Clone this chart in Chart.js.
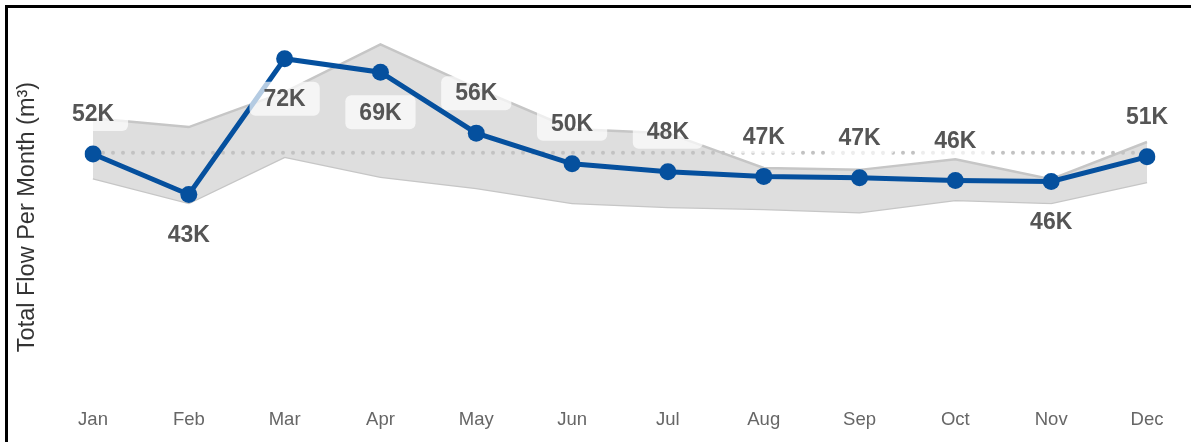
<!DOCTYPE html>
<html lang="en">
<head>
    <meta charset="UTF-8">
    <script src="https://cdn.jsdelivr.net/npm/chart.js"></script>
    <title>Total Flow Per Month</title>
    <style>
        html, body { margin: 0; padding: 0; background: #fff; overflow: hidden; }
        .frame {
            position: absolute;
            left: 5px;
            top: 5px;
            width: 1186px;
            height: 437px;
            border-top: 3px solid #000;
            border-left: 3px solid #000;
        }
        .chart-box { position: relative; width: 1183px; height: 434px; }
    </style>
</head>
<body>
    <div class="frame">
        <div class="chart-box">
            <canvas id="chart-flow"></canvas>
        </div>
    </div>

<script>
    // months on the x axis
    const months = ['Jan', 'Feb', 'Mar', 'Apr', 'May', 'Jun', 'Jul', 'Aug', 'Sep', 'Oct', 'Nov', 'Dec'];

    // total flow this year (m3)
    const totalFlow = [51600, 42900, 72100, 69200, 56100, 49500, 47800, 46800, 46500, 45900, 45700, 51000];

    // historical range (grey band)
    const rangeHigh = [59300, 57400, 64900, 75200, 65800, 57000, 56100, 48600, 48200, 50500, 46200, 54200];
    const rangeLow = [46400, 41100, 51000, 46700, 44300, 41100, 40200, 39800, 39100, 41700, 41100, 45600];

    // dotted average line
    const averageFlow = 51900;

    const yTitle = 'Total Flow Per Month (m³)';

    // where each value label goes
    const labelSide = ['top', 'bottom', 'bottom', 'bottom', 'top', 'top', 'top', 'top', 'top', 'top', 'bottom', 'top'];

    const blue = '#05509e';
    const fontFam = '"Liberation Sans", Arial, sans-serif';

    function formatK(v) {
        return Math.round(v / 1000) + 'K';
    }

    // value labels with a soft white box behind
    const valueLabels = {
        id: 'valueLabels',
        afterDatasetsDraw(chart) {
            const ctx = chart.ctx;
            const meta = chart.getDatasetMeta(0);
            ctx.save();
            ctx.font = 'bold 23px ' + fontFam;
            ctx.textAlign = 'center';
            ctx.textBaseline = 'middle';
            meta.data.forEach((pt, i) => {
                const txt = formatK(totalFlow[i]);
                const y = labelSide[i] === 'top' ? pt.y - 40 : pt.y + 40;
                const w = ctx.measureText(txt).width + 28;
                const h = 34;
                ctx.fillStyle = 'rgba(255,255,255,0.7)';
                ctx.beginPath();
                ctx.roundRect(pt.x - w / 2, y - h / 2, w, h, 6);
                ctx.fill();
                ctx.fillStyle = '#555555';
                ctx.fillText(txt, pt.x, y + 1);
            });
            ctx.restore();
        }
    };

    // y axis title, drawn by hand so it sits where the original has it
    const axisTitle = {
        id: 'axisTitle',
        afterDraw(chart) {
            const ctx = chart.ctx;
            ctx.save();
            ctx.translate(20, 209);
            ctx.rotate(-Math.PI / 2);
            ctx.font = '23.5px ' + fontFam;
            ctx.fillStyle = '#333333';
            ctx.textAlign = 'center';
            ctx.textBaseline = 'middle';
            ctx.fillText(yTitle, 0, 0);
            ctx.restore();
        }
    };

    const ctxFlow = document.getElementById('chart-flow');

    new Chart(ctxFlow, {
        type: 'line',
        data: {
            labels: months,
            datasets: [{
                label: 'Total Flow',
                data: totalFlow,
                borderColor: blue,
                backgroundColor: blue,
                borderWidth: 5,
                pointRadius: 8.5,
                pointBorderWidth: 0,
                pointBackgroundColor: blue,
                tension: 0,
                fill: false
            },
            {
                label: 'Average',
                data: months.map(() => averageFlow),
                borderColor: '#c2c2c2',
                borderWidth: 4,
                borderDash: [0, 10],
                borderCapStyle: 'round',
                pointRadius: 0,
                fill: false
            },
            {
                label: 'High',
                data: rangeHigh,
                borderColor: '#c6c6c6',
                backgroundColor: '#dedede',
                borderWidth: 2.5,
                pointRadius: 0,
                tension: 0,
                fill: '+1'
            },
            {
                label: 'Low',
                data: rangeLow,
                borderColor: '#c6c6c6',
                borderWidth: 2.5,
                pointRadius: 0,
                tension: 0,
                fill: false
            }
            ]
        },
        options: {
            responsive: true,
            maintainAspectRatio: false,
            animation: false,
            events: [],
            layout: {
                padding: { top: 14, right: 44, bottom: 0, left: 0 }
            },
            plugins: {
                legend: { display: false },
                tooltip: { enabled: false }
            },
            scales: {
                x: {
                    offset: false,
                    grid: { display: false, drawTicks: false },
                    border: { display: false },
                    ticks: {
                        color: '#666666',
                        padding: 15,
                        font: { family: fontFam, size: 18.5 }
                    },
                    afterFit(scale) { scale.height = 48; }
                },
                y: {
                    min: 0,
                    max: 80000,
                    grid: { display: false, drawTicks: false },
                    border: { display: false },
                    ticks: { display: false },
                    afterFit(scale) { scale.width = 85; }
                }
            }
        },
        plugins: [valueLabels, axisTitle]
    });
</script>
</body>
</html>
